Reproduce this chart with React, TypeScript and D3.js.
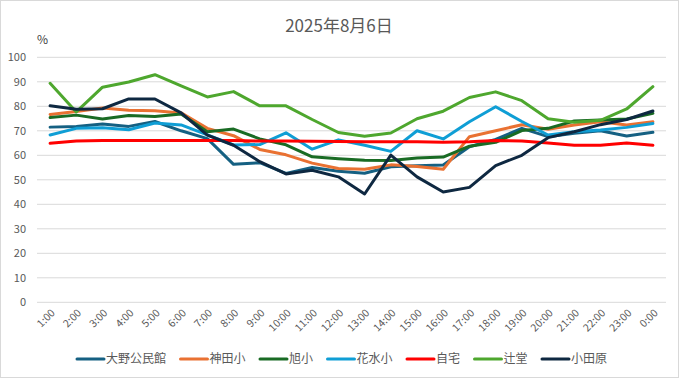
import React from "react";
import * as d3 from "d3";

const hours = [
  "1:00", "2:00", "3:00", "4:00", "5:00", "6:00", "7:00", "8:00", "9:00", "10:00", "11:00", "12:00",
  "13:00", "14:00", "15:00", "16:00", "17:00", "18:00", "19:00", "20:00", "21:00", "22:00", "23:00", "0:00",
];

const oono = [71.5, 71.8, 72.8, 71.8, 73.8, 70, 66.8, 56.3, 57, 52.6, 55, 53.5, 52.7, 55.3, 55.7, 56, 63.5, 66.5, 71, 67.6, 69, 70, 67.9, 69.4];
const kanda = [76.7, 77.9, 79.3, 78.4, 78.2, 77.3, 71, 68, 62.4, 60.2, 56.8, 54.6, 54.3, 56.1, 55.4, 54.3, 67.6, 70, 72.5, 70.6, 72.4, 73.7, 72.4, 73.7];
const asahi = [75.4, 76.4, 74.8, 76.2, 75.8, 76.9, 69.6, 70.7, 66.7, 64.3, 59.4, 58.6, 58, 57.9, 58.9, 59.3, 63.7, 65.3, 70.1, 71, 74, 74.4, 74.8, 77.1];
const hanamizu = [68.3, 71, 71.2, 70.4, 73.2, 72.4, 68.3, 64.2, 64.4, 69.2, 62.5, 66.3, 64.1, 61.6, 70, 66.7, 73.7, 79.8, 73.8, 68.3, 69.6, 70.3, 71.4, 73];
const jitaku = [64.9, 65.8, 66, 66, 66, 66, 66, 66, 65.8, 65.8, 65.7, 65.6, 65.5, 65.5, 65.5, 65.3, 65.5, 66, 65.8, 65, 64.1, 64.1, 65, 64.1];
const tsujido = [89.4, 77.7, 87.8, 89.9, 92.9, 88.3, 83.8, 86, 80.2, 80.2, 74.6, 69.3, 67.8, 69.1, 74.9, 78, 83.6, 85.9, 82.3, 74.9, 73.5, 74.3, 78.9, 88];
const odawara = [80.2, 78.8, 79, 83, 83, 77.3, 68.2, 64.1, 57.4, 52.4, 53.9, 51.2, 44.2, 60.1, 51.2, 45, 46.9, 55.8, 60, 67.2, 69.6, 72.5, 74.6, 78.1];

const seriesNames = ["大野公民館", "神田小", "旭小", "花水小", "自宅", "辻堂", "小田原"];
const seriesValues = [oono, kanda, asahi, hanamizu, jitaku, tsujido, odawara];
const seriesColors = ["#156082", "#E97132", "#196B24", "#0F9ED5", "#FF0000", "#4EA72E", "#0E2841"];

const yTicks = [0, 10, 20, 30, 40, 50, 60, 70, 80, 90, 100];
const title = "2025年8月6日";
const unitLabel = "%";

const W = 681;
const H = 379;
const FONT = "'Noto Sans CJK JP', 'Noto Sans', sans-serif";
const TEXT = "#595959";

export default function App() {
  const x = d3.scaleBand<string>().domain(hours).range([37, 666]).padding(0);
  const y = d3.scaleLinear().domain([0, 100]).range([302.3, 57.3]);
  const cx = (h: string) => (x(h) as number) + x.bandwidth() / 2;
  const line = d3
    .line<number>()
    .x((_, i) => cx(hours[i]))
    .y((v) => y(v));

  const charW = 12;
  const sample = 27;
  const widths = seriesNames.map((n) => sample + 2 + n.length * charW);
  const gap = 14.5;
  const total = widths.reduce((a, b) => a + b, 0) + gap * (widths.length - 1);
  let start = 342 - total / 2;
  const legendPos = widths.map((w) => {
    const s = start;
    start += w + gap;
    return s;
  });

  return (
    <svg
      width={W}
      height={H}
      style={{ position: "absolute", left: 0, top: 0, background: "#fff" }}
      fontFamily={FONT}
    >
      <rect x={0.5} y={0.5} width={678} height={377} fill="#fff" stroke="#d9d9d9" />
      <text x={339} y={32} textAnchor="middle" fontSize={17} fill={TEXT}>
        {title}
      </text>
      <text x={37} y={44} fontSize={12} fill="#404040">
        {unitLabel}
      </text>
      {yTicks.map((t) => (
        <g key={t}>
          <line x1={37} x2={666} y1={y(t)} y2={y(t)} stroke="#d9d9d9" strokeWidth={1} />
          <text x={26} y={y(t)} dy="0.35em" textAnchor="end" fontSize={11} fill={TEXT}>
            {t}
          </text>
        </g>
      ))}
      {hours.map((h) => (
        <text
          key={h}
          transform={`translate(${cx(h) + 3},${311}) rotate(-45)`}
          textAnchor="end"
          dy="0.35em"
          fontSize={10.5}
          fill={TEXT}
        >
          {h}
        </text>
      ))}
      {seriesValues.map((vals, si) => (
        <path
          key={seriesNames[si]}
          d={line(vals) || ""}
          fill="none"
          stroke={seriesColors[si]}
          strokeWidth={3}
          strokeLinejoin="round"
          strokeLinecap="round"
        />
      ))}
      {seriesNames.map((n, i) => (
        <g key={n} transform={`translate(${legendPos[i]},359)`}>
          <line x1={0} x2={sample} y1={0} y2={0} stroke={seriesColors[i]} strokeWidth={3} strokeLinecap="round" />
          <text x={sample + 2} y={0} dy="0.35em" fontSize={12} fill={TEXT}>
            {n}
          </text>
        </g>
      ))}
    </svg>
  );
}
